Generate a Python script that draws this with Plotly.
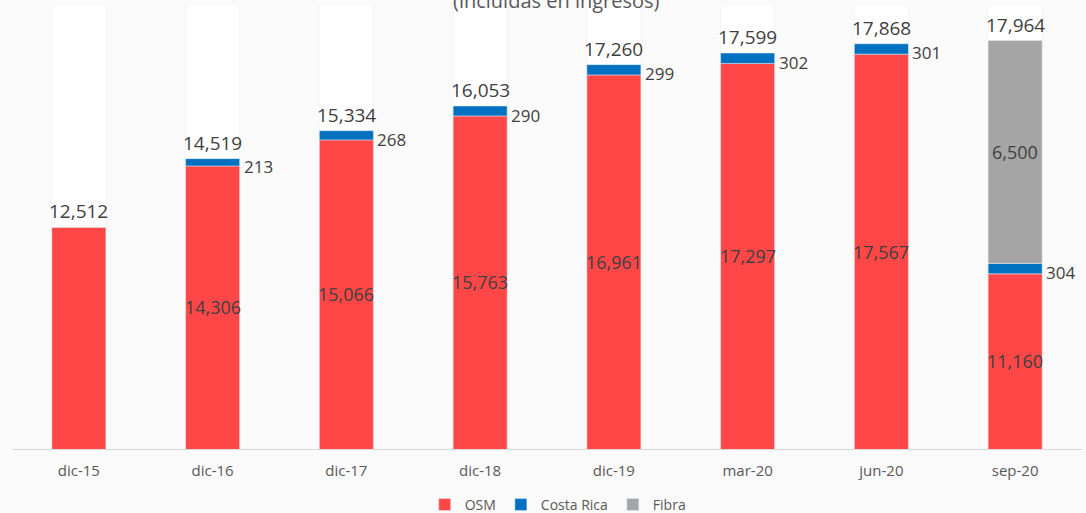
import plotly.graph_objects as go

categories = ["dic-15", "dic-16", "dic-17", "dic-18", "dic-19", "mar-20", "jun-20", "sep-20"]
osm = [12512, 14306, 15066, 15763, 16961, 17297, 17567, 11160]
costa_rica = [None, 213, 268, 290, 299, 302, 301, 304]
fibra = [None, None, None, None, None, None, None, 6500]
totals = [12512, 14519, 15334, 16053, 17260, 17599, 17868, 17964]
show_osm_label = [False, True, True, True, True, True, True, True]
background_max = 19000
axis_min = 6050

x = list(range(len(categories)))
W = 0.404
RED = "#FF4747"
BLUE = "#0070C0"
GREY = "#A5A5A5"
TXT = "#404040"
FONT = "Open Sans"

cr_base = [o if c is not None else None for o, c in zip(osm, costa_rica)]
fibra_base = [(o + (c or 0)) if f is not None else None for o, c, f in zip(osm, costa_rica, fibra)]

fig = go.Figure()
fig.add_trace(go.Bar(x=x, y=[background_max] * len(x), width=W, marker_color="#FFFFFF",
                     showlegend=False, hoverinfo="skip"))
fig.add_trace(go.Bar(x=x, y=osm, width=W, marker_color=RED, name="OSM"))
fig.add_trace(go.Bar(x=x, y=costa_rica, base=cr_base, width=W, marker_color=BLUE, name="Costa Rica"))
fig.add_trace(go.Bar(x=x, y=fibra, base=fibra_base, width=W, marker_color=GREY, name="Fibra"))

annotations = []
# OSM labels centred in the visible part of the red bar
for xi, o, show in zip(x, osm, show_osm_label):
    if show:
        annotations.append(dict(x=xi, y=(axis_min + o) / 2, text=f"{o:,}", showarrow=False,
                                xanchor="center", yanchor="middle",
                                font=dict(size=18, color=TXT, family=FONT)))
# Fibra label
for xi, f, b in zip(x, fibra, fibra_base):
    if f is not None:
        annotations.append(dict(x=xi, y=b + f / 2, text=f"{f:,}", showarrow=False,
                                xanchor="center", yanchor="middle",
                                font=dict(size=18, color=TXT, family=FONT)))
# Costa Rica labels to the right
for xi, o, c in zip(x, osm, costa_rica):
    if c is not None:
        annotations.append(dict(x=xi + W / 2, y=o + c / 2, text=f"{c:,}", showarrow=False,
                                xanchor="left", yanchor="middle", xshift=2, yshift=-4,
                                font=dict(size=17, color=TXT, family=FONT)))
# Totals
for xi, t in zip(x, totals):
    annotations.append(dict(x=xi, y=t, text=f"{t:,}", showarrow=False,
                            xanchor="center", yanchor="middle", yshift=16,
                            font=dict(size=19, color=TXT, family=FONT)))
# Title (cut at top)
annotations.append(dict(text="(incluidas en ingresos)", xref="paper", yref="paper",
                        x=0.509, y=1.011, xanchor="center", yanchor="middle", showarrow=False,
                        font=dict(size=20, color="#595959", family=FONT)))

fig.update_layout(
    width=1086, height=513,
    barmode="overlay",
    paper_bgcolor="#FAFAFA", plot_bgcolor="#FAFAFA",
    margin=dict(l=12, r=4, t=5, b=64, autoexpand=False),
    font=dict(family=FONT, color="#595959"),
    showlegend=True,
    legend=dict(orientation="h", x=0.51, xanchor="center", y=-0.126, yanchor="middle",
                font=dict(size=14, color="#595959"), traceorder="normal",
                itemwidth=30, bgcolor="rgba(0,0,0,0)"),
    xaxis=dict(range=[-0.5, len(x) - 0.5], tickvals=x, ticktext=categories,
               showline=True, linecolor="#D9D9D9", linewidth=1, showgrid=False,
               zeroline=False, ticks="", ticklabelstandoff=8,
               tickfont=dict(size=15, color="#595959")),
    yaxis=dict(range=[axis_min, background_max], visible=False, showgrid=False, zeroline=False),
    annotations=annotations,
)

fig.write_html("out.html", config={"displayModeBar": False},
               post_script="document.body.style.margin='0';")
